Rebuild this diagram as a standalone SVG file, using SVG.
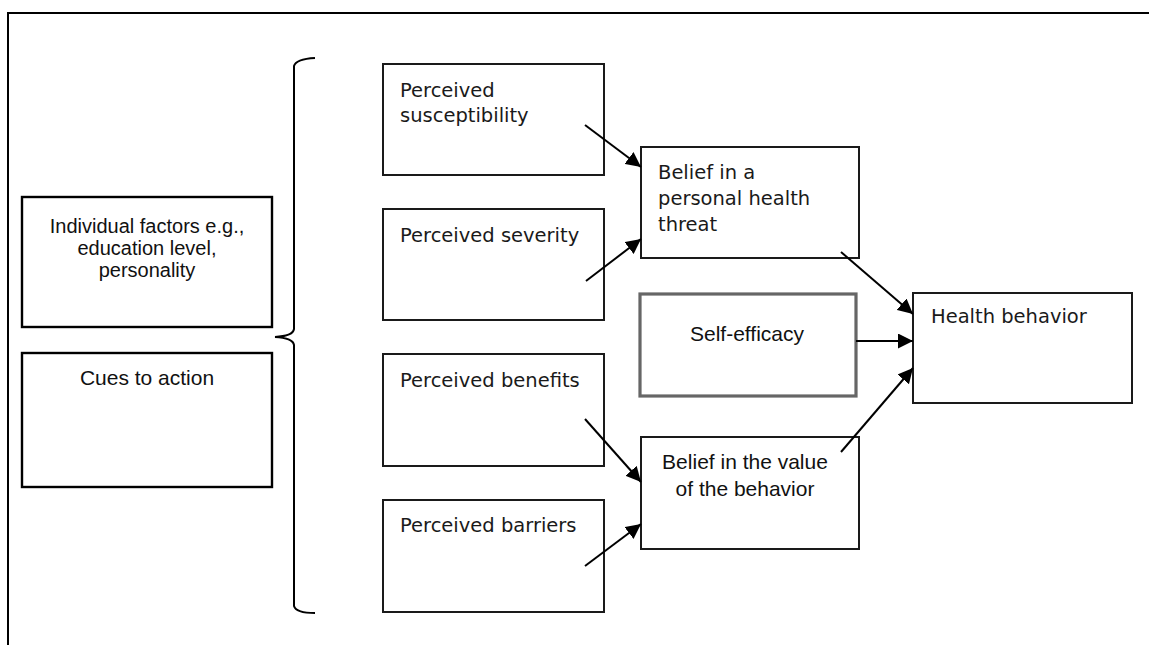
<svg xmlns="http://www.w3.org/2000/svg" width="1149" height="645" viewBox="0 0 1149 645">
  <style>
    .box { fill: #fff; stroke: #1a1a1a; stroke-width: 2; }
    .boxL { fill: #fff; stroke: #000; stroke-width: 2.4; }
    .boxG { fill: #fff; stroke: #666; stroke-width: 3.2; }
    .arial { font-family: "Liberation Sans", Arial, sans-serif; font-size: 21px; fill: #111; }
    .tight { font-size: 20px; }
    .sans { font-family: "DejaVu Sans", Verdana, sans-serif; font-size: 19.5px; fill: #1a1a1a; }
    .mid { text-anchor: middle; }
    .conn { stroke: #000; stroke-width: 2; fill: none; marker-end: url(#arrow); }
  </style>
  <defs>
    <marker id="arrow" viewBox="0 0 15 15" refX="15" refY="7.5" markerWidth="7.5" markerHeight="7.5" markerUnits="strokeWidth" orient="auto">
      <path d="M0,0 L15,7.5 L0,15 z" fill="#000"/>
    </marker>
  </defs>

  <rect width="1149" height="645" fill="#fff"/>

  <!-- outer frame: top and left edges only -->
  <path d="M8,645 L8,13 L1149,13" fill="none" stroke="#000" stroke-width="2"/>

  <!-- curly bracket grouping the left-hand factors -->
  <path d="M315,58 Q296,59 294,66 L294,329 Q293,336 275,337 Q293,338 294,345 L294,606 Q296,613 315,613" fill="none" stroke="#000" stroke-width="2"/>

  <g id="individual-factors">
    <rect class="boxL" x="22" y="197" width="250" height="130"/>
    <text class="arial tight mid" x="147" y="233">Individual factors e.g.,</text>
    <text class="arial tight mid" x="147" y="255">education level,</text>
    <text class="arial tight mid" x="147" y="277">personality</text>
  </g>

  <g id="cues-to-action">
    <rect class="boxL" x="22" y="353" width="250" height="134"/>
    <text class="arial mid" x="147" y="385">Cues to action</text>
  </g>

  <g id="perceived-susceptibility">
    <rect class="box" x="383" y="64" width="221" height="111"/>
    <text class="sans" x="400" y="97">Perceived</text>
    <text class="sans" x="400" y="122">susceptibility</text>
  </g>

  <g id="perceived-severity">
    <rect class="box" x="383" y="209" width="221" height="111"/>
    <text class="sans" x="400" y="242">Perceived severity</text>
  </g>

  <g id="perceived-benefits">
    <rect class="box" x="383" y="354" width="221" height="112"/>
    <text class="sans" x="400" y="387">Perceived benefits</text>
  </g>

  <g id="perceived-barriers">
    <rect class="box" x="383" y="500" width="221" height="112"/>
    <text class="sans" x="400" y="532">Perceived barriers</text>
  </g>

  <g id="health-threat">
    <rect class="box" x="641" y="147" width="218" height="111"/>
    <text class="sans" x="658" y="179">Belief in a</text>
    <text class="sans" x="658" y="205">personal health</text>
    <text class="sans" x="658" y="231">threat</text>
  </g>

  <g id="self-efficacy">
    <rect class="boxG" x="640" y="294" width="216" height="102"/>
    <text class="arial mid" x="747" y="341">Self-efficacy</text>
  </g>

  <g id="behavior-value">
    <rect class="box" x="641" y="437" width="218" height="112"/>
    <text class="arial mid" x="745" y="469">Belief in the value</text>
    <text class="arial mid" x="745" y="496">of the behavior</text>
  </g>

  <g id="health-behavior">
    <rect class="box" x="913" y="293" width="219" height="110"/>
    <text class="sans" x="931" y="323">Health behavior</text>
  </g>

  <g id="connectors">
    <line class="conn" x1="585" y1="125" x2="641" y2="167"/>
    <line class="conn" x1="586" y1="281" x2="641" y2="239"/>
    <line class="conn" x1="585" y1="419" x2="641" y2="482"/>
    <line class="conn" x1="585" y1="566" x2="641" y2="524"/>
    <line class="conn" x1="841" y1="252" x2="913" y2="314"/>
    <line class="conn" x1="856" y1="341" x2="913" y2="341"/>
    <line class="conn" x1="841" y1="452" x2="913" y2="368"/>
  </g>
</svg>
